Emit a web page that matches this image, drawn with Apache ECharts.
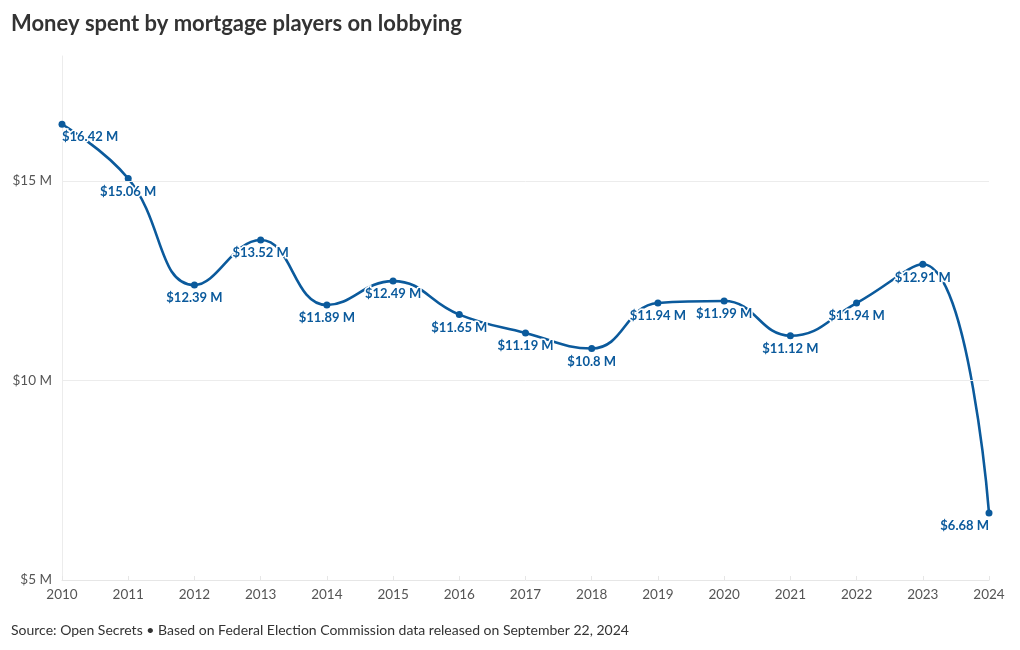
<!DOCTYPE html>
<html><head><meta charset="utf-8">
<script src="https://cdn.jsdelivr.net/npm/echarts@6/dist/echarts.min.js"></script>
<style>html,body{margin:0;padding:0;background:#fff}#c{width:1020px;height:650px}</style>
</head><body><div id="c"></div>
<script>
var years = ['2010','2011','2012','2013','2014','2015','2016','2017','2018','2019','2020','2021','2022','2023','2024'];
var spending = [16.42, 15.06, 12.39, 13.52, 11.89, 12.49, 11.65, 11.19, 10.8, 11.94, 11.99, 11.12, 11.94, 12.91, 6.68];
var yTicks = [5, 10, 15];
var titleText = 'Money spent by mortgage players on lobbying';
var sourceText = 'Source: Open Secrets \u2022 Based on Federal Election Commission data released on September 22, 2024';

var FONT = 'Lato, "Noto Sans", sans-serif';
var BLUE = '#0b5a9c';
var chart = echarts.init(document.getElementById('c'));
var data = spending.map(function (v, i) {
  var d = { value: v };
  if (i === 0) d.label = { align: 'left', offset: [0, 0] };
  if (i === spending.length - 1) d.label = { align: 'right', offset: [0, 0] };
  return d;
});
chart.setOption({
  animation: false,
  title: [
    { text: titleText, left: 6, top: 8, textStyle: { fontFamily: FONT, fontSize: 22, fontWeight: 'bold', color: '#333' } },
    { text: sourceText, left: 6, top: 618, textStyle: { fontFamily: FONT, fontSize: 14, fontWeight: 'normal', color: '#333' } }
  ],
  grid: { left: 62, right: 31, top: 56, bottom: 70 },
  xAxis: {
    type: 'category', data: years, boundaryGap: false,
    axisLine: { show: true, lineStyle: { color: '#e6e6e6', width: 1 } },
    axisTick: { show: true, length: 4, inside: true, lineStyle: { color: '#e6e6e6' } },
    axisLabel: { fontFamily: FONT, fontSize: 13.5, color: '#555', margin: 8 },
    splitLine: { show: false }
  },
  yAxis: {
    type: 'value', min: 5, max: 18.13, interval: 5,
    axisLine: { show: true, lineStyle: { color: '#ececec', width: 1 } },
    axisTick: { show: false },
    splitLine: { show: false },
    axisLabel: {
      fontFamily: FONT, fontSize: 13.5, color: '#555', margin: 10, showMaxLabel: false,
      formatter: function (v) { return yTicks.indexOf(v) >= 0 ? '$' + v + ' M' : ''; }
    }
  },
  series: [{
    type: 'line', data: data, smooth: 0.45,
    symbol: 'circle', symbolSize: 7,
    lineStyle: { color: BLUE, width: 2.6 },
    itemStyle: { color: BLUE },
    label: {
      show: true, position: 'bottom', distance: 3,
      fontFamily: FONT, fontSize: 13, fontWeight: 'bold', color: BLUE,
      textBorderColor: '#fff', textBorderWidth: 3,
      formatter: function (p) { return '$' + p.value + ' M'; }
    },
    markLine: {
      silent: true, symbol: 'none', label: { show: false },
      lineStyle: { color: '#ececec', width: 1, type: 'solid' },
      data: yTicks.filter(function (t) { return t > 5; }).map(function (t) { return { yAxis: t }; })
    },
    z: 3
  }]
});
</script></body></html>
